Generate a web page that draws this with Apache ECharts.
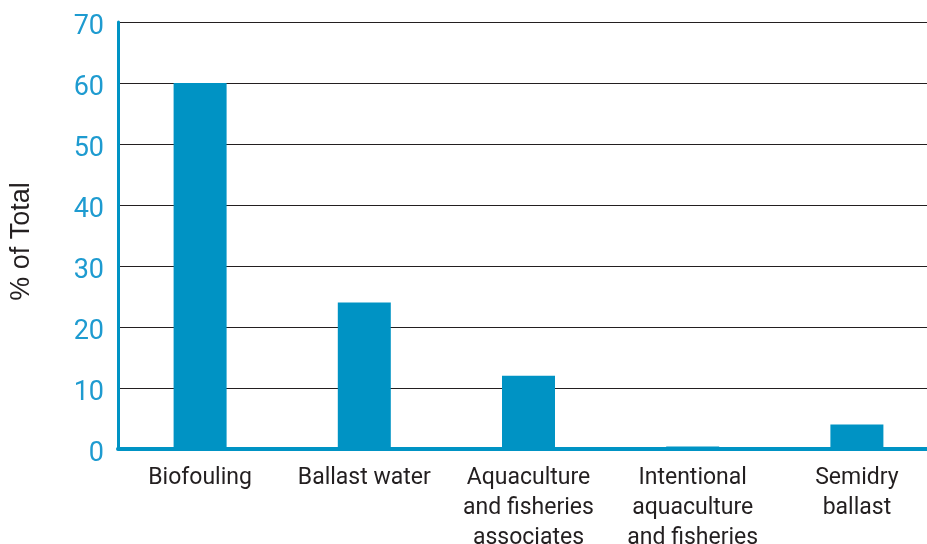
<!DOCTYPE html>
<html>
<head>
<meta charset="utf-8">
<script src="https://cdn.jsdelivr.net/npm/echarts@6/dist/echarts.min.js"></script>
<style>
  html, body { margin: 0; padding: 0; background: #fff; }
  #chart { width: 927px; height: 544px; }
</style>
</head>
<body>
<div id="chart"></div>
<script>
// Introduction pathways, share of total records
const categories = [
  'Biofouling',
  'Ballast water',
  'Aquaculture\nand fisheries\nassociates',
  'Intentional\naquaculture\nand fisheries',
  'Semidry\nballast'
];
const shares = [60, 24, 12, 0.4, 4];
const yTicks = { min: 0, max: 70, interval: 10 };

const blue = '#0093c4';
const chart = echarts.init(document.getElementById('chart'));
chart.setOption({
  animation: false,
  textStyle: { fontFamily: 'Roboto' },
  grid: {
    left: 118, top: 22, width: 821, height: 427,
    containLabel: false, outerBoundsMode: 'none'
  },
  xAxis: {
    type: 'category',
    data: categories,
    axisLine: { show: true, lineStyle: { color: blue, width: 4 } },
    axisTick: { show: false },
    axisLabel: {
      color: '#231f20', fontSize: 23, lineHeight: 30, margin: 14,
      fontFamily: 'Roboto', interval: 0
    }
  },
  yAxis: {
    type: 'value',
    min: yTicks.min, max: yTicks.max, interval: yTicks.interval,
    name: '% of Total',
    nameLocation: 'middle',
    nameGap: 83,
    nameTextStyle: {
      color: '#231f20', fontSize: 27, fontFamily: 'Liberation Sans',
      padding: [0, 12, 0, 0]
    },
    axisLine: { show: true, lineStyle: { color: blue, width: 3 } },
    axisTick: { show: false },
    axisLabel: {
      color: '#1e9bd0', fontSize: 27, margin: 14, fontFamily: 'Roboto',
      verticalAlign: 'top', lineHeight: 10
    },
    splitLine: { show: true, lineStyle: { color: '#231f20', width: 1 } }
  },
  series: [{
    type: 'bar',
    data: shares,
    barWidth: 53,
    itemStyle: { color: blue }
  }]
});
</script>
</body>
</html>
